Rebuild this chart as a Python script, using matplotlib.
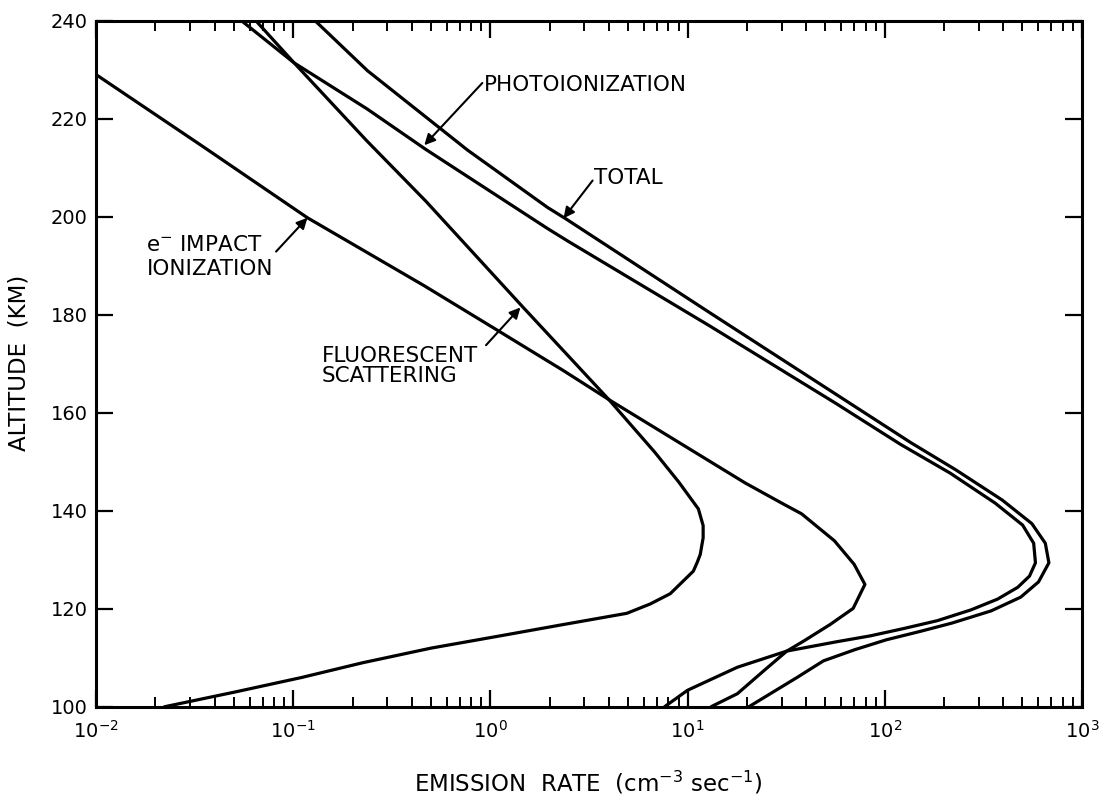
import numpy as np
import matplotlib
matplotlib.use("Agg")
import matplotlib.pyplot as plt
from matplotlib.ticker import LogLocator, NullLocator, NullFormatter, FixedLocator

# Altitude (km) / emission rate (cm^-3 s^-1)
e_impact_alt = [229.0, 214.3, 199.8, 185.9, 176.9, 168.6, 162.7, 145.7, 141.5, 139.4,
                133.9, 129.1, 125.0, 120.1, 116.8, 113.4, 111.4, 107.4, 102.7, 100.0]
e_impact_rate = [0.0100, 0.0349, 0.118, 0.463, 1.08, 2.35, 3.99, 19.6, 30.3, 37.9,
                 55.6, 70.0, 79.4, 69.2, 52.8, 38.7, 31.9, 24.4, 17.9, 13.1]

fluor_alt = [240.0, 231.4, 215.5, 203.2, 181.6, 162.7, 152.0, 145.9, 140.4, 137.0,
             134.5, 131.1, 129.5, 127.7, 123.1, 121.0, 119.1, 116.7, 114.5, 112.0,
             109.0, 106.0, 103.0, 100.0]
fluor_rate = [0.0646, 0.101, 0.236, 0.470, 1.46, 3.99, 6.81, 9.02, 11.35, 12.0,
              12.0, 11.6, 11.2, 10.7, 8.17, 6.46, 4.92, 2.26, 1.12, 0.50,
              0.224, 0.110, 0.050, 0.022]

photo_alt = [240.0, 231.4, 222.0, 213.8, 197.6, 195.0, 177.7, 162.0, 153.6, 147.7,
             141.6, 137.1, 133.4, 129.4, 126.7, 124.4, 122.0, 119.8, 117.6, 116.0,
             114.5, 113.3, 111.4, 108.1, 103.4, 100.0]
photo_rate = [0.0546, 0.101, 0.237, 0.468, 1.95, 2.48, 13.0, 56.2, 120, 215,
              363, 501, 570, 582, 543, 473, 374, 274, 185, 125,
              84.5, 57.1, 31.9, 17.9, 10.0, 7.62]

total_alt = [240.0, 229.8, 213.6, 201.9, 199.6, 180.4, 162.3, 153.9, 148.4, 142.2,
             137.4, 133.4, 129.4, 125.5, 122.4, 119.6, 117.1, 115.4, 113.7, 111.7,
             109.4, 106.0, 102.7, 100.0]
total_rate = [0.129, 0.238, 0.766, 1.95, 2.41, 13.0, 64.6, 136, 229, 395,
              558, 653, 681, 603, 490, 347, 219, 151, 102, 70.8,
              48.9, 35.9, 26.3, 20.4]

alt_ticks = [100, 120, 140, 160, 180, 200, 220, 240]

fig = plt.figure(figsize=(11.05, 7.97), dpi=100)
ax = fig.add_axes([0.087, 0.113, 0.892, 0.861])

lw = 2.3
for x, y in [(e_impact_rate, e_impact_alt), (fluor_rate, fluor_alt),
             (photo_rate, photo_alt), (total_rate, total_alt)]:
    ax.plot(x, y, color="black", linewidth=lw, solid_joinstyle="round",
            solid_capstyle="butt")

ax.set_xscale("log")
ax.set_xlim(1e-2, 1e3)
ax.set_ylim(100, 240)

ax.xaxis.set_major_locator(LogLocator(base=10, numticks=10))
ax.xaxis.set_minor_locator(LogLocator(base=10, subs=np.arange(2, 10), numticks=20))
ax.xaxis.set_minor_formatter(NullFormatter())
ax.yaxis.set_major_locator(FixedLocator(alt_ticks))
ax.yaxis.set_minor_locator(NullLocator())

ax.tick_params(axis="both", which="major", direction="in", length=12, width=1.6,
               top=True, right=True, labelsize=14)
ax.tick_params(axis="both", which="minor", direction="in", length=7, width=1.4,
               top=True, right=True)
ax.tick_params(axis="x", which="major", pad=9)
ax.tick_params(axis="y", which="major", pad=6)
for s in ax.spines.values():
    s.set_linewidth(2.2)

fig.text(0.017, 0.545, "ALTITUDE  (KM)", rotation=90, ha="center", va="center",
         fontsize=16.5)
fig.text(0.532, 1 - 783 / 797, "EMISSION  RATE  (cm$^{-3}$ sec$^{-1}$)",
         ha="center", va="center", fontsize=16.5)

# Curve labels
tfs = 15.5
ax.text(0.93, 226.8, "PHOTOIONIZATION", fontsize=tfs, ha="left", va="center")
ax.text(3.35, 208.0, "TOTAL", fontsize=tfs, ha="left", va="center")
ax.text(0.018, 191.7, "e$^{-}$ IMPACT\nIONIZATION", fontsize=tfs, ha="left", va="center",
        linespacing=1.25)
ax.text(0.14, 169.5, "FLUORESCENT\nSCATTERING", fontsize=tfs, ha="left", va="center",
        linespacing=1.0)

arrow = dict(arrowstyle="-|>", color="black", lw=1.5, mutation_scale=16,
             shrinkA=0, shrinkB=0)
ax.annotate("", xy=(0.462, 214.6), xytext=(0.91, 227.3), arrowprops=arrow)
ax.annotate("", xy=(2.35, 199.7), xytext=(3.30, 207.4), arrowprops=arrow)
ax.annotate("", xy=(0.118, 199.8), xytext=(0.0818, 192.9), arrowprops=arrow)
ax.annotate("", xy=(1.42, 181.5), xytext=(0.95, 173.8), arrowprops=arrow)

fig.savefig("out.png", dpi=100)
